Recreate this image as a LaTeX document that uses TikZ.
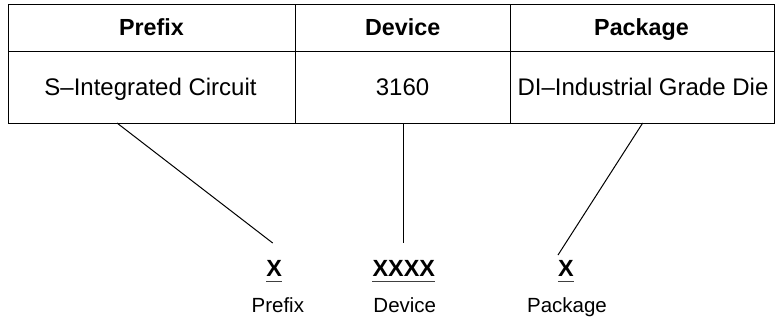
\documentclass[tikz,border=0pt]{standalone}
\usepackage{fontspec}
\setmainfont{Liberation Sans}
\begin{document}
\begin{tikzpicture}[x=1pt,y=-1pt,
	head/.style={anchor=base,font=\fontsize{23.3}{28}\selectfont\bfseries},
	cell/.style={anchor=base,font=\fontsize{24}{29}\selectfont},
	code/.style={anchor=base,inner sep=0pt,font=\fontsize{23.4}{28}\selectfont\bfseries},
	tag/.style={anchor=base,font=\fontsize{20.5}{25}\selectfont},
	rule/.style={line width=1pt}]
	\useasboundingbox (0,0) rectangle (775,322);
	
	%table
	\draw[rule] (8,4) rectangle (774,123);
	\draw[rule] (8,51.5)--(774,51.5);
	\draw[rule] (295,4)--(295,123);
	\draw[rule] (510.5,4)--(510.5,123);
	
	%inner labels
	\node[head] (hpfx) at (151.5,35)	{Prefix};
	\node[head] (hdev) at (402.7,35)	{Device};
	\node[head] (hpkg) at (641.5,35)	{Package};
	\node[cell] (cpfx) at (150.5,95.5)	{S--Integrated Circuit};
	\node[cell] (cdev) at (402.5,95.5)	{3160};
	\node[cell] (cpkg) at (643,95.5)	{DI--Industrial Grade Die};
	
	%code letters
	\node[code] (xpfx) at (274.2,276.7)	{X};
	\node[code] (xdev) at (403.8,276.7)	{XXXX};
	\node[code] (xpkg) at (565.8,276.7)	{X};
	\foreach \n in {xpfx,xdev,xpkg}
		\draw[line width=0.9pt,black!75] ([yshift=-5pt]\n.base west)--([yshift=-5pt]\n.base east);
	
	%outer labels
	\node[tag] (tpfx) at (277.8,312.7)	{Prefix};
	\node[tag] (tdev) at (404.8,312.7)	{Device};
	\node[tag] (tpkg) at (567,312.7)	{Package};
	
	%lines
	\coordinate (pfxtop) at (117,123);
	\coordinate (pfxend) at (272.7,243);
	\coordinate (devtop) at (403,123);
	\coordinate (devend) at (403,243);
	\coordinate (pkgtop) at (642.7,123);
	\coordinate (pkgend) at (558,255);
	\draw[rule] (pfxtop)--(pfxend);
	\draw[rule] (devtop)--(devend);
	\draw[rule] (pkgtop)--(pkgend);
	
\end{tikzpicture}
\end{document}
